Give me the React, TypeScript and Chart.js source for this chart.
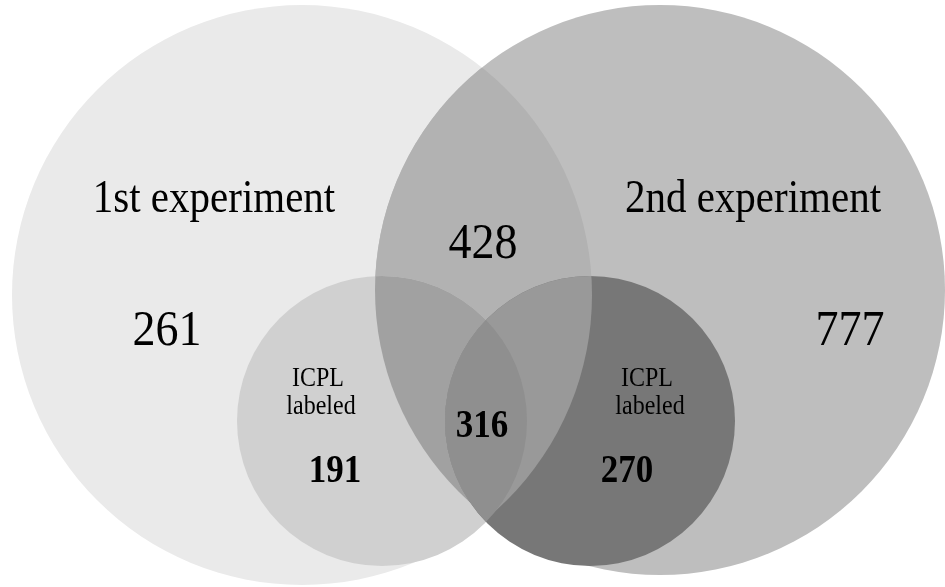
import React, { useEffect, useRef } from "react";
import { Chart, registerables } from "chart.js";

Chart.register(...registerables);

// Sets (circles) of the Venn diagram
const setNames = ["1st experiment", "2nd experiment", "ICPL labeled (1st)", "ICPL labeled (2nd)"];
const circleX = [302, 660, 382, 590];
const circleY = [295, 290, 421, 421];
const circleR = [290, 285, 145, 145];
const circleColors = ["#eaeaea", "#bebebe", "#d0d0d0", "#777777"];

// Overlap fills
const overlapColors = ["#b2b2b2", "#a1a1a1", "#999999", "#8f8f8f"];

// Region counts
const regionCounts = ["261", "428", "777", "191", "316", "270"];
const regionBold = [false, false, false, true, true, true];
const regionX = [167, 483, 850, 335, 482, 627];
const regionY = [345, 258, 345, 482, 437, 482];

// Set titles
const titleTexts = ["1st experiment", "2nd experiment"];
const titleX = [214, 753];
const titleY = [212, 212];

// Sub-labels
const subLines = ["ICPL", "labeled"];
const subX = [318, 647];
const subLineY = [386, 414];
const subLineDx = [0, 3];

const SERIF = "'Liberation Serif', 'Times New Roman', serif";
const TEXT_STRETCH = 1.12;

const overlapPlugin = {
  id: "overlaps",
  afterDatasetDraw(chart: any, args: any) {
    const ctx = chart.ctx as CanvasRenderingContext2D;
    const circle = (i: number) => {
      const el: any = chart.getDatasetMeta(i).data[0];
      return { x: el.x, y: el.y, r: el.options.radius };
    };
    const fillClip = (clips: number[], target: number, color: string) => {
      ctx.save();
      for (const c of clips) {
        const k = circle(c);
        ctx.beginPath();
        ctx.arc(k.x, k.y, k.r, 0, Math.PI * 2);
        ctx.clip();
      }
      const t = circle(target);
      ctx.beginPath();
      ctx.arc(t.x, t.y, t.r, 0, Math.PI * 2);
      ctx.fillStyle = color;
      ctx.fill();
      ctx.restore();
    };
    if (args.index === 1) fillClip([0], 1, overlapColors[0]);
    if (args.index === 2) fillClip([1], 2, overlapColors[1]);
    if (args.index === 3) {
      fillClip([0, 1], 3, overlapColors[2]);
      fillClip([2], 3, overlapColors[3]);
    }
  },
  afterDatasetsDraw(chart: any) {
    const ctx = chart.ctx as CanvasRenderingContext2D;
    const xs = chart.scales.x;
    const ys = chart.scales.y;
    const put = (t: string, x: number, y: number) => {
      ctx.save();
      ctx.translate(xs.getPixelForValue(x), ys.getPixelForValue(y));
      ctx.scale(1, TEXT_STRETCH);
      ctx.fillText(t, 0, 0);
      ctx.restore();
    };
    ctx.save();
    ctx.fillStyle = "#000";
    ctx.textAlign = "center";
    ctx.textBaseline = "alphabetic";
    ctx.font = `41px ${SERIF}`;
    titleTexts.forEach((t, i) => put(t, titleX[i], titleY[i]));
    regionCounts.forEach((t, i) => {
      ctx.font = regionBold[i] ? `bold 35px ${SERIF}` : `46px ${SERIF}`;
      put(t, regionX[i], regionY[i]);
    });
    ctx.font = `24px ${SERIF}`;
    subX.forEach((sx) => {
      subLines.forEach((line, j) => put(line, sx + subLineDx[j], subLineY[j]));
    });
    ctx.restore();
  },
};

export default function App() {
  const ref = useRef<HTMLCanvasElement | null>(null);
  useEffect(() => {
    if (!ref.current) return;
    const radiusFn = (c: any) => {
      const xs = c.chart.scales.x;
      const raw = c.raw;
      return Math.abs(xs.getPixelForValue(raw.x + raw.r) - xs.getPixelForValue(raw.x));
    };
    const chart = new Chart(ref.current, {
      type: "scatter",
      data: {
        datasets: setNames.map((name, i) => ({
          label: name,
          order: setNames.length - i,
          data: [{ x: circleX[i], y: circleY[i], r: circleR[i] }],
          backgroundColor: circleColors[i],
          borderWidth: 0,
          pointBorderWidth: 0,
          pointRadius: radiusFn,
          pointHoverRadius: radiusFn,
          clip: false as any,
        })),
      },
      options: {
        responsive: false,
        animation: false,
        events: [],
        layout: { padding: 0 },
        plugins: { legend: { display: false }, tooltip: { enabled: false } },
        scales: {
          x: { type: "linear", min: 0, max: 945, display: false },
          y: { type: "linear", min: 0, max: 587, reverse: true, display: false },
        },
      },
      plugins: [overlapPlugin],
    });
    return () => chart.destroy();
  }, []);
  return (
    <div style={{ position: "absolute", left: 0, top: 0, width: 945, height: 587, background: "#fff" }}>
      <canvas ref={ref} width={945} height={587} style={{ display: "block" }} />
    </div>
  );
}
